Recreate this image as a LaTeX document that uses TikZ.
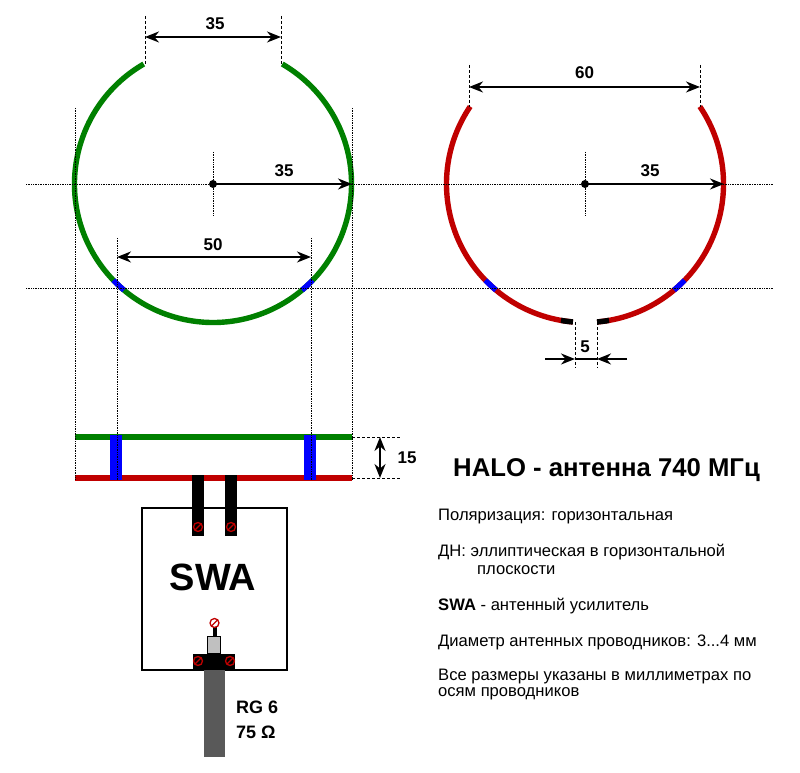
\documentclass[tikz,border=0pt]{standalone}
\usepackage{fontspec}
\setmainfont{Liberation Sans}
\usetikzlibrary{arrows.meta}

\definecolor{wiregreen}{RGB}{0,128,0}
\definecolor{wirered}{RGB}{192,0,0}
\definecolor{cablegrey}{RGB}{89,89,89}
\definecolor{plugtop}{RGB}{192,192,192}

\tikzset{
    guide/.style={densely dotted,line width=0.7pt},
    cutline/.style={dash pattern=on 3pt off 2pt,line width=0.8pt},
    tip/.style={>={Stealth[length=14pt,width=11pt]},line width=2pt},
    dimtext/.style={font=\bfseries\fontsize{17}{17}\selectfont},
    cabletext/.style={anchor=west,inner sep=0pt,font=\bfseries\fontsize{18}{18}\selectfont},
    wire/.style={line width=5.4pt},
    infotext/.style={anchor=west,align=left,inner sep=0pt,font=\fontsize{16.6}{17}\selectfont},
    screw/.style={circle,draw=wirered,line width=1.3pt,inner sep=0pt,minimum size=9pt,
        path picture={\draw[wirered,line width=1.3pt] (path picture bounding box.south west) -- (path picture bounding box.north east);}}
}

\begin{document}
\begin{tikzpicture}[x=1pt,y=1pt]
    \useasboundingbox (0,0) rectangle (800,773);
    \coordinate (cl) at (213,589);
    \coordinate (cr) at (585,589);

    % left loop
    \draw[wire,wiregreen] ([shift={(cl)}]120:138.5) arc[start angle=120,end angle=420,radius=138.5];
    \foreach \a/\b in {-136/-130,-50/-44}
        \draw[wire,blue] ([shift={(cl)}]\a:138.5) arc[start angle=\a,end angle=\b,radius=138.5];

    % right loop
    \draw[wire,wirered] ([shift={(cr)}]34:138.5) arc[start angle=34,end angle=-85,radius=138.5];
    \draw[wire,wirered] ([shift={(cr)}]146:138.5) arc[start angle=146,end angle=265,radius=138.5];
    \foreach \a/\b in {-136/-130,-50/-44}
        \draw[wire,blue] ([shift={(cr)}]\a:138.5) arc[start angle=\a,end angle=\b,radius=138.5];
    \foreach \a/\b in {-100/-95,-85/-80}
        \draw[wire,black] ([shift={(cr)}]\a:138.5) arc[start angle=\a,end angle=\b,radius=138.5];

    % side view
    \coordinate (gl) at (75,336);
    \coordinate (gr) at (352,336);
    \coordinate (rl) at (75,295);
    \coordinate (rr) at (352,295);
    \node[draw,line width=1.6pt,minimum width=145pt,minimum height=162pt,inner sep=0pt] (swa) at (214.5,184) {};
    \draw[wire,wiregreen] (gl) -- (gr);
    \draw[wire,wirered] (rl) -- (rr);
    \foreach \x in {116,310}
        \fill[blue] (\x-6,293) rectangle (\x+6,338);
    \foreach \x in {198,231} {
        \fill[black] (\x-6,237) rectangle (\x+6,298);
        \node[screw] (s\x) at (\x,246) {};
    }
    \node[font=\bfseries\fontsize{38}{38}\selectfont] (swalabel) at (213,196) {SWA};

    % plug and cable
    \fill[cablegrey] (203.5,16) rectangle (224.5,103);
    \fill[black] (193,103) rectangle (235,119);
    \fill[plugtop,draw=black,line width=1pt] (207.5,119) rectangle (220,136);
    \draw[black,line width=4pt] (214.5,136) -- (214.5,146);
    \node[screw] (pin) at (214.5,150) {};
    \node[screw] (sa) at (198,112) {};
    \node[screw] (sb) at (230,112) {};
    \node[cabletext] (rg) at (236,66) {RG 6};
    \node[cabletext] (ohm) at (236,41) {75 Ω};

    % dotted axes
    \draw[guide] (26,589) -- (773,589);
    \draw[guide] (26,485) -- (773,485);
    \draw[guide] (75,665) -- (75,293);
    \draw[guide] (352,665) -- (352,293);
    \draw[guide] (117,535) -- (117,293);
    \draw[guide] (311,535) -- (311,293);
    \draw[guide] (213.5,621) -- (213.5,557);
    \draw[guide] (585,621) -- (585,557);

    % cut marks
    \foreach \x in {145,281}
        \draw[cutline] (\x,757) -- (\x,708);
    \foreach \x in {469,700}
        \draw[cutline] (\x,708) -- (\x,666);
    \foreach \x in {575,597}
        \draw[cutline] (\x,451) -- (\x,405);
    \draw[cutline] (gr) -- (400,336);
    \draw[cutline] (rr) -- (400,295);

    % dimensions
    \draw[tip,<->] (145,736) -- node[dimtext,above=3pt,xshift=2pt] {35} (281,736);
    \draw[tip,<->] (469,686) -- node[dimtext,above=4pt] {60} (700,686);
    \draw[tip,<->] (117,516) -- node[dimtext,above=2pt,xshift=-1pt] {50} (311,516);
    \draw[tip,<->] (380,336) -- (380,295);
    \node[dimtext] (h15) at (407,315) {15};
    \fill (cl) circle (4pt);
    \fill (cr) circle (4pt);
    \draw[tip,->] (cl) -- (352,589);
    \draw[tip,->] (cr) -- (724,589);
    \node[dimtext] (rl35) at (284,602) {35};
    \node[dimtext] (rr35) at (650,602) {35};
    \coordinate (gapl) at (545,414);
    \coordinate (gapr) at (627,414);
    \draw[tip,->] (gapl) -- (575,414);
    \draw[tip,->] (gapr) -- (597,414);
    \draw[line width=2pt] (575,414) -- (597,414);
    \node[dimtext] (gap5) at (585,426) {5};

    % notes
    \node[anchor=west,inner sep=0pt,font=\bfseries\fontsize{25.7}{25.7}\selectfont] (title) at (453,303) {HALO - антенна 740 МГц};
    \node[infotext] (n1) at (438,256) {Поляризация: горизонтальная};
    \node[infotext] (n2) at (438,221) {ДН: эллиптическая в горизонтальной};
    \node[infotext] (n2b) at (477,203) {плоскости};
    \node[infotext] (n3) at (438,167) {{\bfseries SWA} - антенный усилитель};
    \node[infotext] (n4) at (438,131) {Диаметр антенных проводников: 3...4 мм};
    \node[infotext] (n5) at (438,96) {Все размеры указаны в миллиметрах по};
    \node[infotext] (n5b) at (438,79) {осям проводников};
\end{tikzpicture}
\end{document}
